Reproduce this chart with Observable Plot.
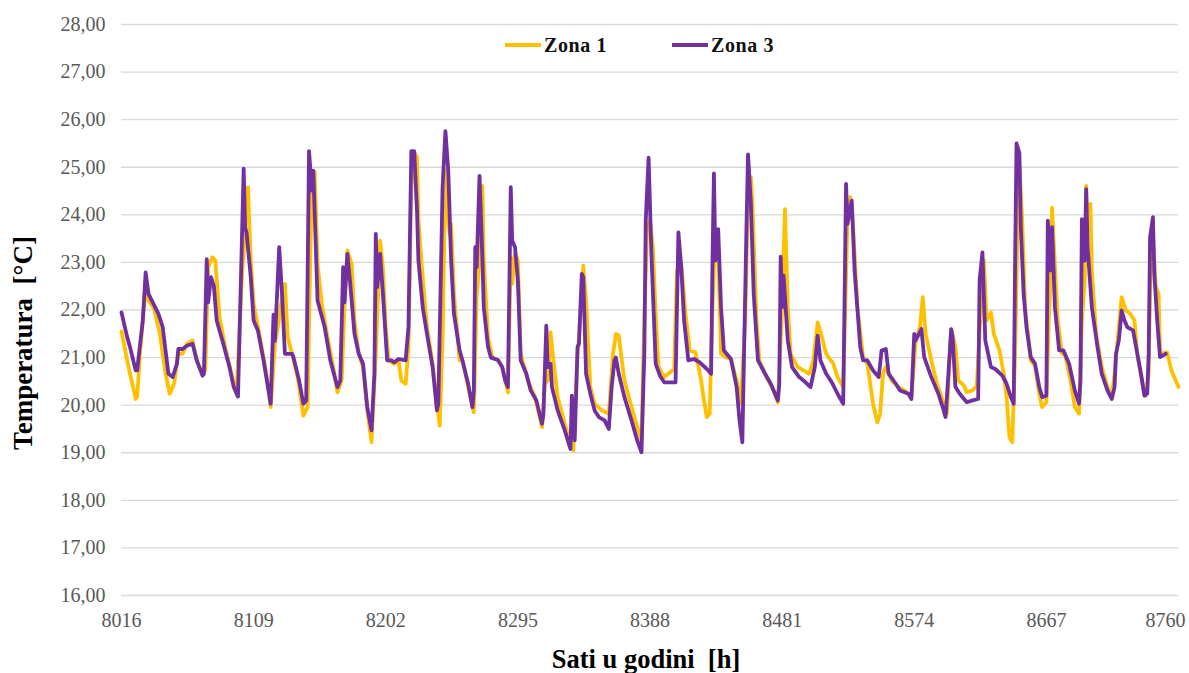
<!DOCTYPE html>
<html>
<head>
<meta charset="utf-8">
<script src="https://cdn.jsdelivr.net/npm/d3@7"></script>
<script src="https://cdn.jsdelivr.net/npm/@observablehq/plot@0.6"></script>
<style>
  html, body { margin: 0; padding: 0; background: #fff; }
  #wrap { position: relative; width: 1189px; height: 673px; }
  #legend { position: absolute; top: 33px; left: 0; width: 1189px; height: 24px; }
  .item { position: absolute; top: 0; display: flex; align-items: center; height: 24px; }
  .item span { font-family: "Liberation Serif"; font-weight: bold; font-size: 20px; letter-spacing: 0.6px; color: #111; margin-left: 3px; }
  svg text { font-family: "Liberation Serif"; }
</style>
</head>
<body>
<div id="wrap">
  <div id="chart"></div>
  <div id="legend"></div>
</div>
<script>
// ---- data ----
const seriesNames = ["Zona 1", "Zona 3"];
const seriesColors = ["#FFC000", "#7030A0"];
const xTicks = [8016, 8109, 8202, 8295, 8388, 8481, 8574, 8667, 8760];
const yTicks = [16, 17, 18, 19, 20, 21, 22, 23, 24, 25, 26, 27, 28];

const z1Hours = [8016,8020,8022,8026,8027,8029,8033,8035,8039,8043,8047,8050,8053,8056,8059,8062,8066,8069,8073,8075,8077,8080,8082,8085,8089,8094,8097,8101,8102,8105,8107,8109,8113,8118,8121,8124,8126,8128,8131,8133,8136,8140,8144,8147,8149,8150,8152,8154,8157,8161,8165,8168,8171,8173,8175,8178,8180,8183,8186,8189,8192,8195,8196,8198,8200,8202,8204,8208,8211,8213,8216,8218,8220,8222,8224,8225,8228,8231,8235,8240,8242,8244,8245,8247,8248,8250,8254,8256,8260,8264,8266,8268,8270,8271,8274,8277,8281,8284,8288,8290,8291,8293,8295,8297,8302,8307,8312,8314,8316,8318,8320,8323,8328,8332,8334,8337,8338,8341,8343,8346,8349,8354,8359,8362,8364,8366,8370,8375,8379,8382,8384,8386,8388,8390,8392,8394,8398,8401,8405,8407,8410,8413,8416,8420,8424,8426,8428,8430,8432,8434,8436,8438,8441,8445,8449,8452,8455,8457,8459,8460,8463,8465,8470,8475,8478,8481,8483,8485,8487,8492,8496,8500,8503,8506,8509,8512,8517,8520,8524,8527,8529,8531,8534,8538,8541,8545,8548,8550,8552,8554,8558,8563,8567,8572,8575,8578,8580,8582,8586,8590,8594,8597,8600,8603,8605,8609,8611,8615,8618,8621,8623,8625,8628,8630,8634,8637,8639,8641,8643,8645,8647,8648,8650,8652,8656,8659,8662,8664,8667,8669,8670,8671,8672,8675,8678,8680,8684,8687,8690,8692,8694,8695,8696,8698,8699,8702,8706,8710,8713,8715,8718,8720,8723,8726,8729,8731,8735,8737,8739,8740,8742,8744,8746,8747,8752,8755,8759,8760];
const z1Temps = [21.55,20.94,20.66,20.13,20.17,21.08,22.48,22.20,22.02,21.50,20.66,20.24,20.45,21.08,21.08,21.29,21.36,20.94,20.66,20.73,22.90,23.11,23.04,21.85,21.22,20.59,20.24,22.83,23.21,24.58,23.04,22.13,21.50,20.66,19.96,21.29,21.64,22.06,22.55,21.43,21.08,20.59,19.78,19.96,23.32,24.58,24.90,22.97,22.13,21.43,20.80,20.27,20.52,22.13,23.25,22.97,21.78,21.08,20.80,19.89,19.22,21.08,21.85,23.46,22.90,21.64,20.94,20.87,20.94,20.52,20.45,21.22,24.58,25.32,25.21,23.88,22.69,21.64,20.87,19.57,21.43,24.93,24.16,23.60,23.81,22.34,20.94,20.94,20.38,19.85,22.30,23.04,24.61,23.04,21.43,21.01,20.94,20.80,20.27,23.11,22.55,23.18,23.04,21.08,20.52,20.17,19.54,20.45,20.52,21.53,20.94,20.17,19.61,19.19,19.05,21.08,21.43,22.93,22.20,20.38,20.03,19.89,19.82,21.08,21.50,21.46,20.52,19.96,19.54,19.26,21.78,23.74,23.88,23.32,21.92,20.80,20.59,20.66,20.76,22.83,22.97,21.92,21.15,21.11,20.52,20.10,19.75,19.82,22.06,23.67,23.18,21.08,21.01,20.97,20.52,20.03,21.78,24.37,24.79,24.30,21.78,20.94,20.59,20.31,20.06,22.06,24.12,22.06,21.08,20.80,20.73,20.66,20.94,21.74,21.43,21.08,20.87,20.59,20.38,23.88,24.37,23.74,22.06,21.01,20.87,20.03,19.64,19.82,20.66,20.80,20.52,20.38,20.31,20.17,21.36,21.64,22.27,21.50,20.94,20.45,20.10,19.82,21.60,21.22,20.52,20.41,20.27,20.31,20.41,22.06,23.04,21.78,21.95,21.50,21.15,20.66,20.17,19.33,19.22,21.08,24.23,25.07,23.88,22.06,20.94,20.83,20.24,19.96,20.06,22.06,22.55,24.15,23.53,21.78,21.08,21.08,20.52,19.96,19.82,21.78,22.62,24.61,23.67,24.23,22.83,21.50,20.80,20.38,20.17,20.66,21.64,22.27,21.99,21.92,21.78,21.08,20.38,20.20,20.66,22.48,23.53,22.48,22.34,21.08,21.11,20.73,20.45,20.38];

const z3Hours = [8016,8020,8022,8026,8027,8031,8033,8035,8038,8042,8045,8049,8052,8055,8056,8059,8062,8066,8069,8073,8074,8076,8077,8079,8081,8083,8087,8092,8095,8098,8102,8103,8104,8107,8109,8112,8116,8121,8123,8124,8127,8129,8131,8136,8137,8141,8144,8146,8148,8150,8151,8154,8159,8163,8168,8170,8172,8173,8175,8177,8180,8183,8186,8189,8192,8194,8195,8196,8198,8200,8203,8206,8208,8211,8216,8218,8220,8222,8224,8225,8228,8231,8235,8238,8239,8242,8244,8246,8248,8250,8254,8256,8260,8263,8264,8265,8266,8268,8270,8271,8274,8276,8281,8284,8286,8288,8290,8291,8293,8295,8297,8301,8304,8308,8312,8313,8315,8316,8318,8319,8323,8328,8332,8333,8335,8337,8338,8340,8341,8343,8346,8349,8352,8356,8359,8361,8363,8364,8366,8370,8375,8379,8382,8384,8385,8387,8389,8391,8392,8395,8398,8406,8408,8410,8412,8415,8419,8423,8428,8431,8432,8433,8434,8436,8438,8440,8445,8449,8451,8453,8456,8457,8459,8461,8464,8469,8473,8478,8479,8480,8481,8482,8485,8488,8493,8496,8501,8504,8506,8508,8512,8516,8520,8524,8526,8527,8530,8532,8536,8538,8541,8545,8549,8551,8554,8556,8561,8564,8570,8572,8574,8575,8579,8581,8586,8591,8594,8596,8597,8600,8601,8603,8606,8611,8615,8619,8620,8622,8624,8628,8631,8636,8639,8642,8644,8645,8646,8648,8649,8651,8653,8656,8659,8662,8664,8667,8668,8670,8671,8673,8676,8679,8683,8687,8690,8691,8692,8694,8695,8696,8699,8703,8706,8710,8713,8715,8716,8718,8720,8722,8724,8728,8731,8734,8736,8738,8739,8740,8742,8743,8745,8747,8751];
const z3Temps = [21.95,21.43,21.22,20.73,20.73,21.78,22.79,22.34,22.16,21.92,21.64,20.66,20.59,20.87,21.18,21.18,21.25,21.29,20.94,20.62,20.66,23.07,22.16,22.69,22.51,21.78,21.36,20.80,20.38,20.18,24.97,23.74,23.63,22.69,21.78,21.57,20.94,20.03,21.90,21.35,23.32,22.34,21.08,21.08,21.01,20.52,20.03,20.10,25.34,24.51,24.93,22.20,21.64,20.94,20.38,20.52,22.90,22.16,23.18,22.55,21.50,21.08,20.87,19.96,19.47,20.66,23.60,22.48,23.18,22.34,20.94,20.94,20.90,20.97,20.94,21.64,25.34,25.34,24.09,23.04,22.06,21.50,20.80,19.89,20.03,24.58,25.76,24.93,23.04,21.92,21.15,20.94,20.45,19.96,20.30,23.32,22.90,24.82,23.11,22.06,21.22,21.00,20.95,20.80,20.52,20.38,24.58,23.46,23.32,22.62,20.94,20.66,20.31,20.10,19.61,19.82,21.67,20.80,20.87,20.38,19.89,19.47,19.08,20.20,19.26,21.22,21.29,22.76,22.69,20.66,20.24,19.89,19.75,19.68,19.50,20.38,20.94,21.00,20.66,20.17,19.68,19.26,19.01,21.08,23.88,25.20,23.18,21.64,20.87,20.62,20.48,20.48,23.63,22.90,21.78,20.94,20.97,20.90,20.76,20.66,23.04,24.87,23.04,23.70,22.06,21.15,20.97,20.38,19.68,19.22,23.88,25.27,24.23,22.34,20.94,20.66,20.45,20.10,20.45,23.12,22.06,22.72,21.36,20.80,20.59,20.52,20.38,20.80,21.46,20.94,20.66,20.48,20.24,20.03,24.65,23.81,24.30,22.83,21.22,20.94,20.94,20.73,20.59,21.15,21.18,20.66,20.45,20.31,20.24,20.13,21.50,21.36,21.60,21.01,20.59,20.24,19.96,19.75,20.17,21.60,21.43,20.38,20.24,20.06,20.10,20.13,22.62,23.21,21.36,20.80,20.76,20.62,20.45,20.17,20.03,23.04,25.50,25.30,23.74,22.34,21.64,21.01,20.87,20.38,20.17,20.20,23.88,22.83,23.74,22.06,21.15,21.15,20.87,20.31,20.03,20.52,23.91,23.04,24.54,23.32,22.06,21.22,20.66,20.31,20.13,20.38,21.08,21.36,21.99,21.78,21.64,21.57,21.08,20.59,20.20,20.24,21.08,23.53,23.95,22.76,21.78,21.01,21.08];

// ---- build table ----
const rows = [];
z1Hours.forEach((h, i) => rows.push({series: seriesNames[0], hour: h, temp: z1Temps[i]}));
z3Hours.forEach((h, i) => rows.push({series: seriesNames[1], hour: h, temp: z3Temps[i]}));

const FONT = "Liberation Serif";
const fmtY = d => d.toFixed(2).replace(".", ",");
const tickColor = "#595959";

const chart = Plot.plot({
  width: 1189,
  height: 673,
  marginTop: 24,
  marginBottom: 78,
  marginLeft: 121,
  marginRight: 11,
  style: { fontFamily: FONT, fontSize: "20px", background: "#fff" },
  x: { domain: [8016, 8760], type: "linear" },
  y: { domain: [16, 28] },
  color: { domain: seriesNames, range: seriesColors },
  marks: [
    Plot.gridY(yTicks, { stroke: "#d9d9d9", strokeOpacity: 1, strokeWidth: 1.3 }),
    Plot.axisY(yTicks, { tickSize: 0, tickPadding: 16, tickFormat: fmtY, label: null, fill: tickColor, fontSize: 20, fontFamily: FONT }),
    Plot.axisX(xTicks.slice(0, -1), { tickSize: 0, tickPadding: 17, tickFormat: d => String(d), label: null, fill: tickColor, fontSize: 20, fontFamily: FONT }),
    Plot.axisX(xTicks.slice(-1), { tickSize: 0, tickPadding: 17, tickFormat: d => String(d), label: null, fill: tickColor, fontSize: 20, fontFamily: FONT, textAnchor: "end", dx: 7 }),
    Plot.line(rows.filter(d => d.series === seriesNames[0]), { x: "hour", y: "temp", stroke: "series", strokeWidth: 3.8, strokeLinejoin: "round", strokeLinecap: "round" }),
    Plot.line(rows.filter(d => d.series === seriesNames[1]), { x: "hour", y: "temp", stroke: "series", strokeWidth: 3.8, strokeLinejoin: "round", strokeLinecap: "round" }),
    Plot.text(["Sati u godini\u00a0 [h]"], { frameAnchor: "bottom", textAnchor: "middle", lineAnchor: "middle", dy: 64, dx: -4, fontSize: 26.5, fontWeight: "bold", fill: "#000", fontFamily: FONT }),
    Plot.text(["Temperatura\u00a0 [°C]"], { frameAnchor: "left", textAnchor: "middle", lineAnchor: "middle", dx: -98, dy: 33, rotate: -90, fontSize: 27, fontWeight: "bold", fill: "#000", fontFamily: FONT })
  ]
});
chart.setAttribute("font-family", FONT);
chart.style.fontFamily = FONT;
document.getElementById("chart").appendChild(chart);

// ---- legend (overlaid inside the plot, as in the reference) ----
const legend = document.getElementById("legend");
const legendLeft = [505, 672];
seriesNames.forEach((name, i) => {
  const item = document.createElement("div");
  item.className = "item";
  item.style.left = legendLeft[i] + "px";
  const sw = document.createElementNS("http://www.w3.org/2000/svg", "svg");
  sw.setAttribute("width", "36"); sw.setAttribute("height", "8");
  const ln = document.createElementNS("http://www.w3.org/2000/svg", "line");
  ln.setAttribute("x1", 0); ln.setAttribute("y1", 4); ln.setAttribute("x2", 36); ln.setAttribute("y2", 4);
  ln.setAttribute("stroke", seriesColors[i]); ln.setAttribute("stroke-width", 4);
  sw.appendChild(ln);
  const sp = document.createElement("span");
  sp.textContent = name;
  sp.style.fontFamily = FONT;
  item.appendChild(sw); item.appendChild(sp);
  legend.appendChild(item);
});
</script>
</body>
</html>
